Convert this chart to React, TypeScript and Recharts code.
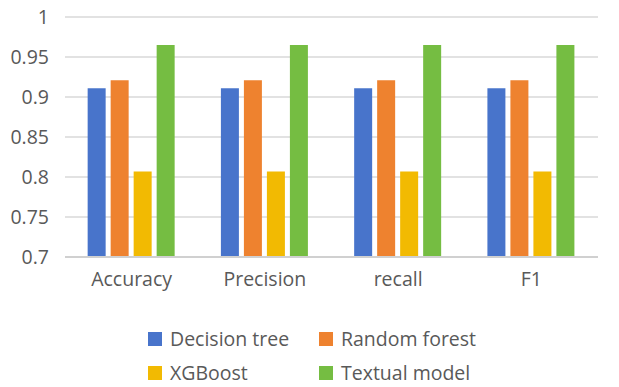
import React from 'react';
import { BarChart, Bar, XAxis, YAxis, CartesianGrid, Legend } from 'recharts';

const categories = ['Accuracy', 'Precision', 'recall', 'F1'];
const decisionTree = [0.911, 0.911, 0.911, 0.911];
const randomForest = [0.921, 0.921, 0.921, 0.921];
const xgboost = [0.807, 0.807, 0.807, 0.807];
const textualModel = [0.965, 0.965, 0.965, 0.965];
const yTicks = [0.7, 0.75, 0.8, 0.85, 0.9, 0.95, 1];
const seriesNames = ['Decision tree', 'Random forest', 'XGBoost', 'Textual model'];
const seriesKeys = ['dt', 'rf', 'xgb', 'tm'];
const seriesColors = ['#4874CB', '#EE822F', '#F2BA02', '#75BD42'];

const data = categories.map((c, i) => ({
  name: c,
  dt: decisionTree[i],
  rf: randomForest[i],
  xgb: xgboost[i],
  tm: textualModel[i],
}));

const FONT = '"Open Sans", sans-serif';
const TEXT = '#595959';

const CustomLegend = () => (
  <div style={{ width: 619, height: 80, position: 'relative', fontFamily: FONT, color: TEXT }}>
    {seriesNames.map((n, i) => {
      const col = i % 2;
      const row = Math.floor(i / 2);
      return (
        <div
          key={n}
          style={{
            position: 'absolute',
            left: 148 + col * 171,
            top: 20 + row * 34,
            height: 24,
            display: 'flex',
            alignItems: 'center',
            whiteSpace: 'nowrap',
          }}
        >
          <span style={{ display: 'inline-block', width: 14, height: 14, background: seriesColors[i], marginRight: 8 }} />
          <span style={{ fontSize: 19.5, lineHeight: '24px' }}>{n}</span>
        </div>
      );
    })}
  </div>
);

export default function App() {
  return (
    <div style={{ position: 'absolute', left: 0, top: 0, width: 619, height: 387, background: '#fff' }}>
      <BarChart
        width={619}
        height={387}
        data={data}
        margin={{ top: 17, right: 21, bottom: 0, left: 0 }}
        barCategoryGap="17%"
        barGap={5}
      >
        <CartesianGrid vertical={false} stroke="#d9d9d9" strokeWidth={1.5} />
        <XAxis
          dataKey="name"
          height={50}
          tickLine={false}
          tickSize={0}
          tickMargin={15}
          axisLine={{ stroke: '#d0d0d0', strokeWidth: 2 }}
          tick={{ fill: TEXT, fontSize: 19.5, fontFamily: FONT }}
        />
        <YAxis
          width={65}
          domain={[0.7, 1]}
          ticks={yTicks}
          axisLine={false}
          tickLine={false}
          tickSize={0}
          tickMargin={16}
          interval={0}
          tick={{ fill: TEXT, fontSize: 19.5, fontFamily: FONT }}
        />
        <Legend verticalAlign="bottom" height={80} content={<CustomLegend />} />
        {seriesKeys.map((k, i) => (
          <Bar key={k} dataKey={k} name={seriesNames[i]} fill={seriesColors[i]} isAnimationActive={false} />
        ))}
      </BarChart>
    </div>
  );
}
